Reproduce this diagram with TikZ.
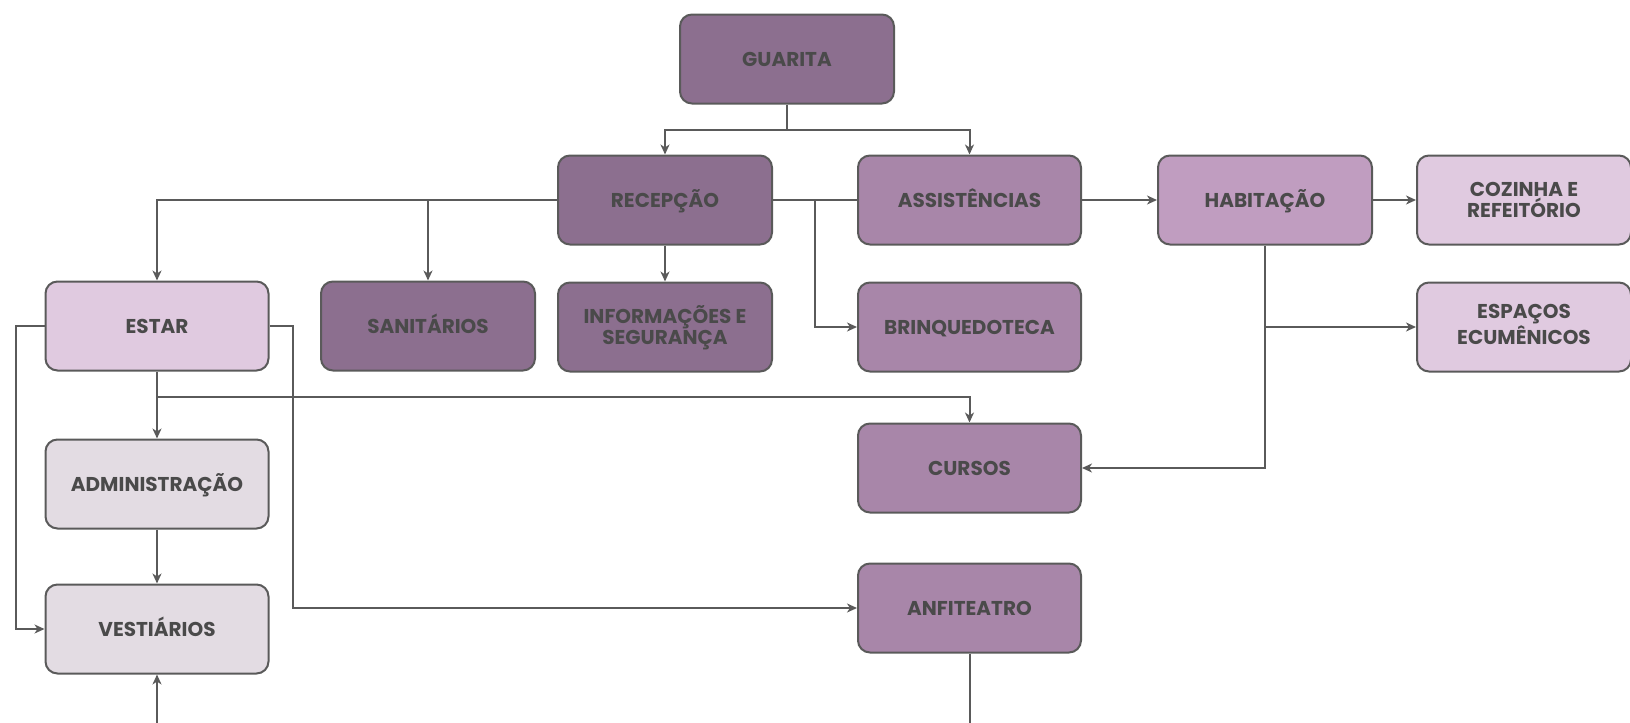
\documentclass[tikz,border=0pt]{standalone}
\usepackage{fontspec}
\setmainfont{Poppins}
\usepackage{xcolor}
\definecolor{Ink}{HTML}{4A4A4A}
\definecolor{Edge}{HTML}{5A5A5A}
\definecolor{Plum}{HTML}{8C6F8F}
\definecolor{Mauve}{HTML}{A886A9}
\definecolor{Lilac}{HTML}{C09DC0}
\definecolor{PaleLilac}{HTML}{E0CAE0}
\definecolor{Mist}{HTML}{E3DCE3}
\usepackage{tikz}
\usetikzlibrary{arrows.meta,positioning}
\tikzset{
  room/.style={draw=Edge,line width=1pt,rounded corners=6pt,minimum height=44.5pt,
    minimum width=107pt,align=center,text=Ink,text height=7pt,text depth=0pt,
    font=\bfseries\fontsize{10}{10.5}\selectfont},
  twoline/.style={text height=17.5pt},
  roomwide/.style={room,minimum width=111.5pt},
  roomplum/.style={room,fill=Plum},
  roommauve/.style={roomwide,fill=Mauve},
  roomlilac/.style={room,fill=Lilac},
  roompale/.style={room,fill=PaleLilac},
  roommist/.style={roomwide,fill=Mist},
  conn/.style={line width=1pt,color=Edge},
  arrow/.style={conn,-{Stealth[length=5pt,width=4.5pt,inset=1.5pt]}}
}

\begin{document}
\begin{tikzpicture}[x=0.5pt,y=-0.5pt,node distance=18pt]
  \useasboundingbox (0,0) rectangle (1630,723);
  \node[roomplum] (guarita) at (787,59) {GUARITA};
  \node[roomplum] (recepcao) at (665,200) {RECEPÇÃO};
  \node[roommauve] (assist) at (969.5,200) {ASSISTÊNCIAS};
  \node[roomlilac] (habit) at (1265,200) {HABITAÇÃO};
  \node[roompale,twoline] (cozinha) at (1524,200) {COZINHA E\\REFEITÓRIO};
  \node[roompale,minimum width=111.5pt] (estar) at (157,326) {ESTAR};
  \node[roomplum] (sanit) at (428,326) {SANITÁRIOS};
  \node[roomplum,twoline,below=of recepcao] (info) {INFORMAÇÕES E\\SEGURANÇA};
  \node[roommauve,below=of assist] (brinq) {BRINQUEDOTECA};
  \node[roompale,twoline,below=of cozinha] (espacos) {ESPAÇOS\\ECUMÊNICOS};
  \node[roommist] (admin) at (157,484) {ADMINISTRAÇÃO};
  \node[roommauve] (cursos) at (969.5,468) {CURSOS};
  \node[roommist] (vest) at (157,629) {VESTIÁRIOS};
  \node[roommauve] (anfi) at (969.5,608) {ANFITEATRO};

  \coordinate (gfork) at (787,130);
  \coordinate (bfork) at (815,200);
  \coordinate (efork) at (157,397);
  \coordinate (lbus) at (16,326);
  \coordinate (rbus) at (293,326);
  \coordinate (vin) at (157,723);
  \coordinate (aout) at (969.5,723);

  \draw[conn] (guarita.south) -- (gfork);
  \draw[arrow] (gfork) -| (recepcao.north);
  \draw[arrow] (gfork) -| (assist.north);
  \draw[arrow] (recepcao.west) -| (estar.north);
  \draw[arrow] (recepcao.west -| sanit.north) -- (sanit.north);
  \draw[arrow] (recepcao.south) -- (info.north);
  \draw[conn] (recepcao.east) -- (assist.west);
  \draw[arrow] (bfork) |- (brinq.west);
  \draw[arrow] (assist.east) -- (habit.west);
  \draw[arrow] (habit.east) -- (cozinha.west);
  \draw[arrow] (habit.south) |- (cursos.east);
  \draw[arrow] (habit.south |- espacos.west) -- (espacos.west);
  \draw[arrow] (estar.south) -- (admin.north);
  \draw[arrow] (efork) -| (cursos.north);
  \draw[arrow] (estar.west) -- (lbus) |- (vest.west);
  \draw[arrow] (estar.east) -- (rbus) |- (anfi.west);
  \draw[arrow] (admin.south) -- (vest.north);
  \draw[arrow] (vin) -- (vest.south);
  \draw[conn] (anfi.south) -- (aout);
\end{tikzpicture}
\end{document}
